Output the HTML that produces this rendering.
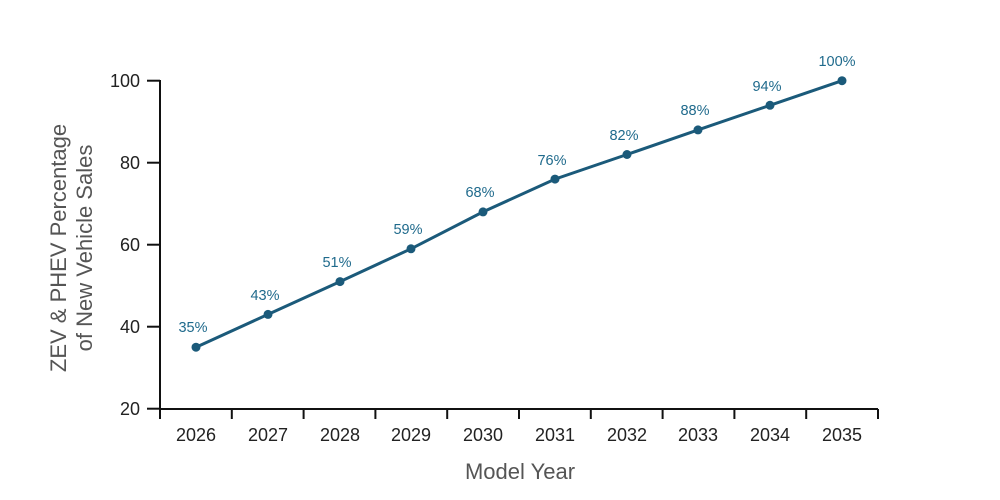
<!DOCTYPE html>
<html><head><meta charset="utf-8"><style>body{margin:0;background:#fff}svg{display:block}</style></head><body>
<svg width="1000" height="500" xmlns="http://www.w3.org/2000/svg" font-family="Liberation Sans, sans-serif">
<g stroke="#111" stroke-width="2" fill="none">
<line x1="160" y1="80" x2="160" y2="409"/>
<line x1="159" y1="409" x2="878" y2="409"/>
<line x1="147" y1="80.7" x2="160" y2="80.7"/>
<line x1="147" y1="162.7" x2="160" y2="162.7"/>
<line x1="147" y1="244.7" x2="160" y2="244.7"/>
<line x1="147" y1="326.7" x2="160" y2="326.7"/>
<line x1="147" y1="408.7" x2="160" y2="408.7"/>
<line x1="160" y1="409" x2="160" y2="419"/>
<line x1="231.8" y1="409" x2="231.8" y2="419"/>
<line x1="303.6" y1="409" x2="303.6" y2="419"/>
<line x1="375.4" y1="409" x2="375.4" y2="419"/>
<line x1="447.2" y1="409" x2="447.2" y2="419"/>
<line x1="519" y1="409" x2="519" y2="419"/>
<line x1="590.8" y1="409" x2="590.8" y2="419"/>
<line x1="662.6" y1="409" x2="662.6" y2="419"/>
<line x1="734.4" y1="409" x2="734.4" y2="419"/>
<line x1="806.2" y1="409" x2="806.2" y2="419"/>
<line x1="878" y1="409" x2="878" y2="419"/>
</g>
<g font-size="18" fill="#222" text-anchor="end">
<text x="140" y="87">100</text><text x="140" y="169">80</text><text x="140" y="251">60</text><text x="140" y="333">40</text><text x="140" y="415">20</text>
</g>
<g font-size="18" fill="#222" text-anchor="middle">
<text x="196" y="441">2026</text><text x="268" y="441">2027</text><text x="340" y="441">2028</text><text x="411" y="441">2029</text><text x="483" y="441">2030</text><text x="555" y="441">2031</text><text x="627" y="441">2032</text><text x="698" y="441">2033</text><text x="770" y="441">2034</text><text x="842" y="441">2035</text>
</g>
<text x="520" y="479" font-size="22" fill="#555" text-anchor="middle">Model Year</text>
<g font-size="22" fill="#555" text-anchor="middle">
<text transform="translate(66,248) rotate(-90)">ZEV &amp; PHEV Percentage</text>
<text transform="translate(92,248) rotate(-90)">of New Vehicle Sales</text>
</g>
<polyline fill="none" stroke="#1b5a7a" stroke-width="3" points="196,347.2 268,314.4 340,281.6 411,248.8 483,211.9 555,179.1 627,154.5 698,129.9 770,105.3 842,80.7"/>
<g fill="#1b5a7a">
<circle cx="196" cy="347.2" r="4.5"/><circle cx="268" cy="314.4" r="4.5"/><circle cx="340" cy="281.6" r="4.5"/><circle cx="411" cy="248.8" r="4.5"/><circle cx="483" cy="211.9" r="4.5"/><circle cx="555" cy="179.1" r="4.5"/><circle cx="627" cy="154.5" r="4.5"/><circle cx="698" cy="129.9" r="4.5"/><circle cx="770" cy="105.3" r="4.5"/><circle cx="842" cy="80.7" r="4.5"/>
</g>
<g font-size="14.5" fill="#1f6a8c" text-anchor="middle">
<text x="193" y="332">35%</text><text x="265" y="300">43%</text><text x="337" y="267">51%</text><text x="408" y="234">59%</text><text x="480" y="197">68%</text><text x="552" y="165">76%</text><text x="624" y="140">82%</text><text x="695" y="115">88%</text><text x="767" y="91">94%</text><text x="837" y="66">100%</text>
</g>
</svg>
</body></html>
